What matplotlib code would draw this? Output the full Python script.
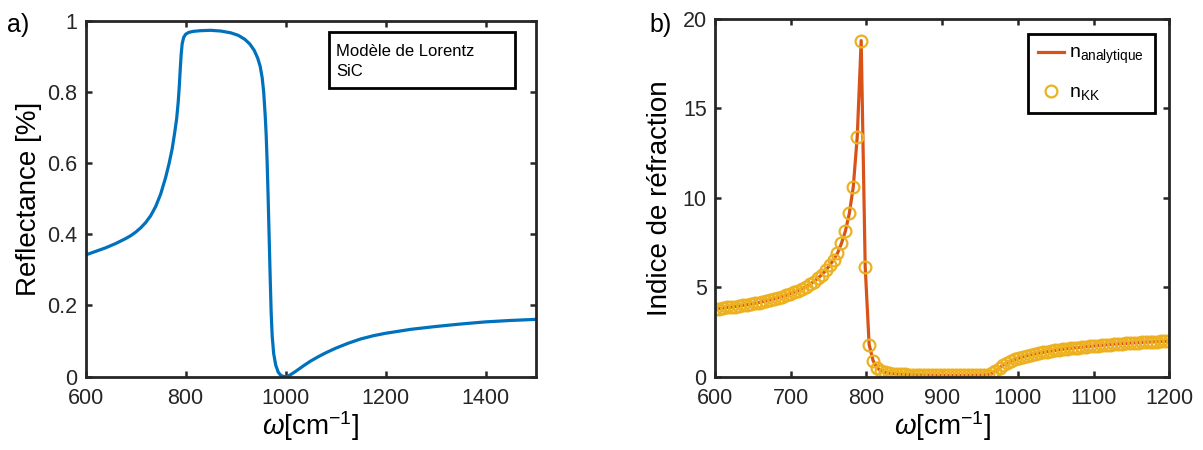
import matplotlib.pyplot as plt
from matplotlib.patches import Rectangle

plt.rcParams['font.family'] = ['Liberation Sans', 'DejaVu Sans']
plt.rcParams['mathtext.fontset'] = 'custom'
plt.rcParams['mathtext.rm'] = 'Liberation Sans'
plt.rcParams['mathtext.it'] = 'Liberation Sans:italic'

# a) reflectance, Lorentz model for SiC (read off the figure)
w_R = [600, 620, 640, 660, 680, 690, 700, 710, 720, 730, 740, 750, 760, 767, 773,
       778, 782, 785, 787, 789, 791, 793, 796, 800, 806, 815, 830, 850, 870, 890,
       905, 918, 928, 937, 944, 949, 953, 956, 959, 961, 963, 965, 967, 969, 971,
       973, 976, 980, 985, 990, 995, 1000, 1008, 1020, 1035, 1050, 1065, 1080,
       1100, 1125, 1150, 1175, 1200, 1250, 1300, 1350, 1400, 1450, 1500]
R = [0.342, 0.352, 0.362, 0.374, 0.388, 0.396, 0.406, 0.418, 0.433, 0.452, 0.478,
     0.513, 0.560, 0.600, 0.640, 0.685, 0.725, 0.770, 0.810, 0.860, 0.905, 0.935,
     0.953, 0.962, 0.967, 0.970, 0.972, 0.973, 0.971, 0.966, 0.959, 0.948, 0.935,
     0.917, 0.895, 0.872, 0.840, 0.800, 0.735, 0.680, 0.600, 0.500, 0.390, 0.280,
     0.180, 0.115, 0.065, 0.033, 0.013, 0.004, 0.001, 0.000, 0.004, 0.015, 0.030,
     0.044, 0.056, 0.067, 0.080, 0.094, 0.106, 0.115, 0.122, 0.133, 0.141, 0.148,
     0.154, 0.158, 0.161]

# b) refractive index, analytic and Kramers-Kronig (same sampling)
w_n = [600.0, 605.2, 610.4, 615.7, 620.9, 626.1, 631.3, 636.5, 641.7, 647.0,
       652.2, 657.4, 662.6, 667.8, 673.0, 678.3, 683.5, 688.7, 693.9, 699.1,
       704.3, 709.6, 714.8, 720.0, 725.2, 730.4, 735.7, 740.9, 746.1, 751.3,
       756.5, 761.7, 767.0, 772.2, 777.4, 782.6, 787.8, 793.0, 798.3, 803.5,
       808.7, 813.9, 819.1, 824.3, 829.6, 834.8, 840.0, 845.2, 850.4, 855.7,
       860.9, 866.1, 871.3, 876.5, 881.7, 887.0, 892.2, 897.4, 902.6, 907.8,
       913.0, 918.3, 923.5, 928.7, 933.9, 939.1, 944.3, 949.6, 954.8, 960.0,
       965.2, 970.4, 975.7, 980.9, 986.1, 991.3, 996.5, 1001.7, 1007.0, 1012.2,
       1017.4, 1022.6, 1027.8, 1033.0, 1038.3, 1043.5, 1048.7, 1053.9, 1059.1, 1064.3,
       1069.6, 1074.8, 1080.0, 1085.2, 1090.4, 1095.7, 1100.9, 1106.1, 1111.3, 1116.5,
       1121.7, 1127.0, 1132.2, 1137.4, 1142.6, 1147.8, 1153.0, 1158.3, 1163.5, 1168.7,
       1173.9, 1179.1, 1184.3, 1189.6, 1194.8, 1200.0]
n_an = [3.79, 3.81, 3.84, 3.87, 3.89, 3.92, 3.95, 3.99, 4.02, 4.06,
        4.10, 4.14, 4.19, 4.24, 4.29, 4.35, 4.41, 4.48, 4.55, 4.63,
        4.72, 4.81, 4.92, 5.04, 5.17, 5.32, 5.50, 5.70, 5.94, 6.22,
        6.53, 6.90, 7.46, 8.15, 9.14, 10.63, 13.42, 18.79, 6.15, 1.80,
        0.90, 0.50, 0.34, 0.25, 0.20, 0.17, 0.15, 0.14, 0.13, 0.12,
        0.11, 0.10, 0.10, 0.09, 0.09, 0.08, 0.08, 0.08, 0.08, 0.07,
        0.07, 0.07, 0.07, 0.07, 0.08, 0.08, 0.09, 0.10, 0.11, 0.12,
        0.18, 0.32, 0.51, 0.66, 0.78, 0.88, 0.97, 1.04, 1.11, 1.17,
        1.22, 1.27, 1.32, 1.36, 1.40, 1.43, 1.47, 1.50, 1.53, 1.56,
        1.58, 1.61, 1.63, 1.65, 1.68, 1.70, 1.72, 1.74, 1.76, 1.78,
        1.80, 1.82, 1.83, 1.85, 1.86, 1.88, 1.89, 1.90, 1.92, 1.93,
        1.94, 1.95, 1.96, 1.97, 1.98, 2.00]
n_kk = list(n_an)

blue = '#0072BD'
orange = '#D95319'
yellow = '#EDB120'
dark = '#262626'

fig = plt.figure(figsize=(12.03, 4.5), dpi=100)
ax1 = fig.add_axes([0.0712, 0.1629, 0.3741, 0.7911])
ax2 = fig.add_axes([0.5944, 0.1629, 0.3776, 0.7949])


def matlab_style(ax):
    for s in ax.spines.values():
        s.set_linewidth(2.0)
        s.set_color(dark)
    ax.tick_params(direction='in', top=True, right=True, length=4.5, width=1.8,
                   labelsize=15.5, colors=dark)
    ax.tick_params(axis='x', pad=8)
    ax.tick_params(axis='y', pad=6)


# a)
ax1.plot(w_R, R, color=blue, lw=2.3)
ax1.set_xlim(600, 1500)
ax1.set_ylim(0, 1)
ax1.set_xticks([600, 800, 1000, 1200, 1400])
ax1.set_yticks([0, 0.2, 0.4, 0.6, 0.8, 1])
ax1.set_yticklabels(['0', '0.2', '0.4', '0.6', '0.8', '1'])
matlab_style(ax1)
ax1.set_xlabel(r'$\omega$[cm$^{-1}$]', fontsize=20, labelpad=0)
ax1.set_ylabel('Reflectance [%]', fontsize=20, labelpad=4)
ax1.add_patch(Rectangle((0.541, 0.811), 0.413, 0.157, transform=ax1.transAxes,
                        fill=False, edgecolor='black', lw=2.0, zorder=5))
ax1.text(0.557, 0.935, 'Modèle de Lorentz\nSiC', transform=ax1.transAxes,
         fontsize=12, va='top', ha='left', linespacing=1.4)

# b)
ax2.plot(w_n, n_an, color=orange, lw=2.3, label=r'n$_{\mathrm{analytique}}$')
ax2.plot(w_n, n_kk, linestyle='none', marker='o', ms=8.5, mfc='none', mec=yellow,
         mew=1.6, label=r'n$_{\mathrm{KK}}$')
ax2.set_xlim(600, 1200)
ax2.set_ylim(0, 20)
ax2.set_xticks(range(600, 1201, 100))
ax2.set_yticks([0, 5, 10, 15, 20])
matlab_style(ax2)
ax2.set_xlabel(r'$\omega$[cm$^{-1}$]', fontsize=20, labelpad=0)
ax2.set_ylabel('Indice de réfraction', fontsize=20, labelpad=7)
leg = ax2.legend(loc='upper right', bbox_to_anchor=(0.968, 0.958), fontsize=14,
                 fancybox=False, framealpha=1, edgecolor='black', handlelength=1.3,
                 handletextpad=0.3, borderpad=0.55, labelspacing=0.9, borderaxespad=0)
leg.get_frame().set_linewidth(2.0)

fig.text(0.006, 0.945, 'a)', fontsize=18, va='center')
fig.text(0.54, 0.945, 'b)', fontsize=18, va='center')

fig.savefig('out.png', dpi=100)
